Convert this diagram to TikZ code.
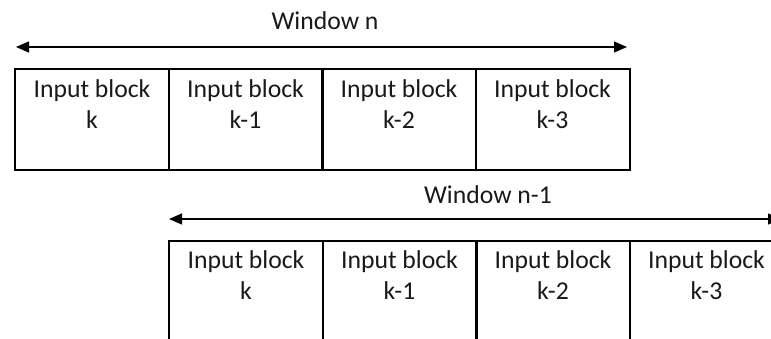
\documentclass[tikz,border=0pt]{standalone}
\usepackage{fontspec}
\setmainfont{Carlito}
\usetikzlibrary{arrows.meta}
\begin{document}
\begin{tikzpicture}[x=1pt,y=-1pt,
  blk/.style={draw=black,line width=2pt,minimum width=154pt,minimum height=101pt,inner sep=0pt,anchor=north west},
  lbl/.style={font=\fontsize{25.7}{31}\selectfont,text=black!90,inner sep=0pt,anchor=base},
  win/.style={line width=1.2pt,{Triangle[length=13pt,width=11pt]}-{Triangle[length=13pt,width=11pt]}}]
\useasboundingbox (0,0) rectangle (771,338);
\clip (0,0) rectangle (771,338);
% top window
\node[lbl] (wn) at (325,29) {Window n};
\coordinate (tl) at (16,47);
\coordinate (tr) at (627,47);
\draw[win] (tl) -- (tr);
\foreach \i/\t in {0/k,1/k-1,2/k-2,3/k-3}{
  \node[blk] (a\i) at (14+153.5*\i,68) {};
  \node[lbl] (a\i l1) at ([yshift=-29pt]a\i.north) {Input block};
  \node[lbl] (a\i l2) at ([yshift=-60pt]a\i.north) {\t};
}
% bottom window
\node[lbl] (wn1) at (488,203) {Window n-1};
\coordinate (bl) at (169,219);
\coordinate (br) at (781,219);
\draw[win] (bl) -- (br);
\foreach \i/\t in {0/k,1/k-1,2/k-2,3/k-3}{
  \node[blk,minimum height=110pt] (b\i) at (168+153.5*\i,240) {};
  \node[lbl] (b\i l1) at ([yshift=-28pt]b\i.north) {Input block};
  \node[lbl] (b\i l2) at ([yshift=-59pt]b\i.north) {\t};
}
\end{tikzpicture}
\end{document}
